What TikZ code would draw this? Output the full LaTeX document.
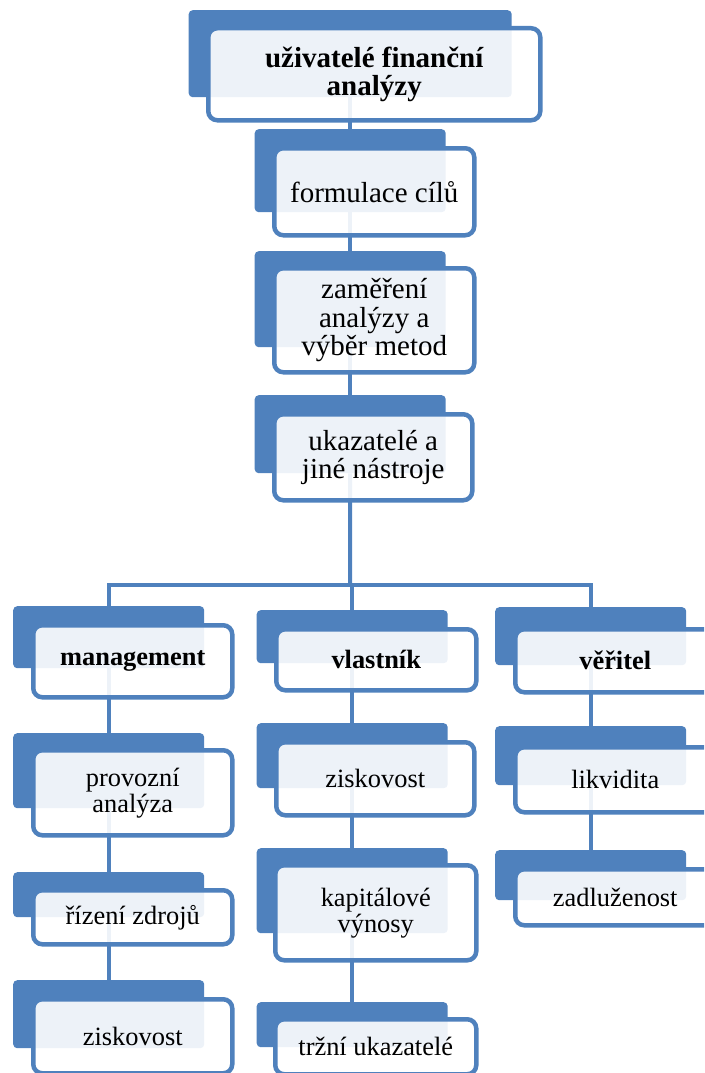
\documentclass[tikz,border=0pt]{standalone}
\usepackage{fontspec}
\setmainfont{Liberation Serif}
\usetikzlibrary{backgrounds}
\definecolor{accent}{HTML}{4F81BD}
\begin{document}
\begin{tikzpicture}[x=1pt, y=-1pt]
    \tikzstyle{back} = [rectangle, fill=accent, rounded corners=4pt, minimum width=191pt, inner sep=0pt, anchor=north west]
    \tikzstyle{front} = [rectangle, draw=accent, line width=4.5pt, rounded corners=9pt, fill=white, fill opacity=0.9, text opacity=1, minimum width=200pt, inner sep=0pt, align=center, anchor=north west]
    \tikzstyle{big} = [font=\fontsize{29}{28.5}\selectfont]
    \tikzstyle{small} = [font=\fontsize{26.4}{26}\selectfont]
    \tikzstyle{line} = [draw=accent, line width=4pt]

    \clip (0,0) rectangle (704,1073);

    % main column
    \node [back, minimum width=323pt, minimum height=87pt] (usersb) at (188.5,10) {};
    \node [front, big, minimum width=332pt, minimum height=92pt] (users) at (206,26) {\bfseries uživatelé finanční\\\bfseries analýzy};
    \node [back, minimum height=83pt] (goalsb) at (254.5,129) {};
    \node [front, big, minimum height=87pt] (goals) at (272,146) {formulace cílů};
    \node [back, minimum height=96pt] (focusb) at (254.5,251) {};
    \node [front, big, minimum height=104pt] (focus) at (272,266) {zaměření\\ analýzy a\\ výběr metod};
    \node [back, minimum height=78pt] (toolsb) at (254.5,395) {};
    \node [front, big, minimum width=198pt, minimum height=86pt] (tools) at (272,412) {ukazatelé a\\ jiné nástroje};

    % users
    \node [back, minimum height=62pt] (mgmtb) at (13,606) {};
    \node [front, small, minimum width=199pt, minimum height=72pt] (mgmt) at (31,623) {\bfseries management};
    \node [back, minimum height=53pt] (ownerb) at (256.5,610) {};
    \node [front, small, minimum height=61pt] (owner) at (274,627) {\bfseries vlastník};
    \node [back, minimum height=58pt] (creditorb) at (495,607) {};
    \node [front, small, minimum height=63pt] (creditor) at (513,627) {\bfseries věřitel};

    % management
    \node [back, minimum height=75pt] (opanb) at (13,733) {};
    \node [front, small, minimum width=199pt, minimum height=85pt] (opan) at (31,748) {provozní\\ analýza};
    \node [back, minimum height=45pt] (resourcesb) at (13,872) {};
    \node [front, small, minimum width=199pt, minimum height=54pt] (resources) at (31,888) {řízení zdrojů};
    \node [back, minimum height=68pt] (mprofitb) at (13,980) {};
    \node [front, small, minimum width=199pt, minimum height=74pt] (mprofit) at (31,997) {ziskovost};

    % owner
    \node [back, minimum height=65pt] (oprofitb) at (256.5,723) {};
    \node [front, small, minimum width=198pt, minimum height=73pt] (oprofit) at (274,740) {ziskovost};
    \node [back, minimum height=85pt] (capitalb) at (256.5,848) {};
    \node [front, small, minimum width=201pt, minimum height=95pt] (capital) at (273,863) {kapitálové\\ výnosy};
    \node [back, minimum height=45pt] (marketb) at (256.5,1002) {};
    \node [front, small, minimum width=201pt, minimum height=55pt] (market) at (273,1017) {tržní ukazatelé};

    % creditor
    \node [back, minimum height=59pt] (liquidb) at (495,726) {};
    \node [front, small, minimum height=65pt] (liquid) at (513,745) {likvidita};
    \node [back, minimum height=50pt] (debtb) at (495,850) {};
    \node [front, small, minimum height=56pt] (debt) at (513,867) {zadluženost};

    \begin{scope}[on background layer]
        \coordinate (fork) at (350,585);
        \draw [line] (usersb) -- (goalsb);
        \draw [line] (goalsb) -- (focusb);
        \draw [line] (focusb) -- (toolsb);
        \draw [line] (toolsb) -- (fork);
        \draw [line] (fork) -| (mgmtb);
        \draw [line] (fork) -| (ownerb);
        \draw [line] (fork) -| (creditorb);
        \draw [line] (mgmtb) -- (opanb);
        \draw [line] (opanb) -- (resourcesb);
        \draw [line] (resourcesb) -- (mprofitb);
        \draw [line] (ownerb) -- (oprofitb);
        \draw [line] (oprofitb) -- (capitalb);
        \draw [line] (capitalb) -- (marketb);
        \draw [line] (creditorb) -- (liquidb);
        \draw [line] (liquidb) -- (debtb);
    \end{scope}
\end{tikzpicture}
\end{document}
